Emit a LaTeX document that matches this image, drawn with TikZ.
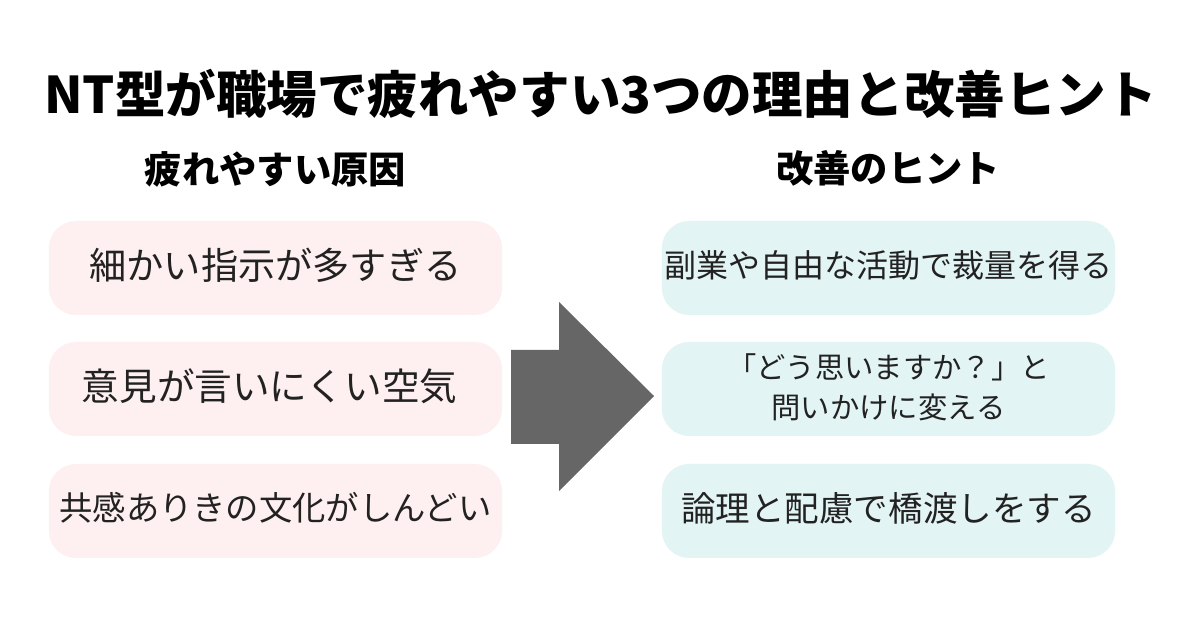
\documentclass[tikz,border=0pt]{standalone}
\usepackage{fontspec}
\setmainfont{Noto Sans CJK JP}
\definecolor{pinkc}{HTML}{FEF0F0}
\definecolor{tealc}{HTML}{E3F4F4}
\definecolor{txtc}{HTML}{222222}
\definecolor{arrowc}{HTML}{666666}
\newcommand{\liftup}[1]{\raisebox{2.2pt}[\height][\depth]{#1}}
\newcommand{\liftless}[1]{\raisebox{1.5pt}[\height][\depth]{#1}}
\tikzset{
 pinkbox/.style={rounded corners=20.5pt,fill=pinkc,minimum width=340pt,minimum height=70.5pt,inner sep=0pt,text=txtc,align=center},
 tealbox/.style={pinkbox,fill=tealc},
 headtxt/.style={font=\bfseries\fontsize{28}{32}\selectfont,text=black,inner sep=0pt},
}
\begin{document}
\begin{tikzpicture}[x=0.75pt,y=-0.75pt]
\useasboundingbox (0,0) rectangle (1200,630);
\fill[white] (0,0) rectangle (1200,630);
\node[inner sep=0pt,font=\bfseries\fontsize{37.9}{44}\selectfont] (title) at (600.5,94) {NT型が職場で疲れやすい3つの理由と改善ヒント};
\node[headtxt] (hl) at (275.5,169) {疲れやすい原因};
\node[headtxt] (hr) at (888,168) {改善のヒント};
\node[pinkbox,font=\fontsize{27.9}{34}\selectfont] (a) at (275.5,268) {\liftup{細かい指示が多すぎる}};
\node[pinkbox,font=\fontsize{28.2}{34}\selectfont] (b) at (275.5,389) {\liftup{意見が言いにくい空気\ \kern2.5pt}};
\node[pinkbox,font=\fontsize{25}{30}\selectfont] (c) at (275.5,511) {\liftup{共感ありきの文化がしんどい}};
\node[tealbox,font=\fontsize{24}{30}\selectfont] (d) at (888.5,268) {\liftup{副業や自由な活動で裁量を得る}};
\node[tealbox,font=\fontsize{22}{30}\selectfont] (e) at (888.5,389) {\liftless{「どう思いますか？」と}\\\liftless{問いかけに変える}};
\node[tealbox,font=\fontsize{25.9}{30}\selectfont] (f) at (888.5,511) {\liftup{論理と配慮で橋渡しをする}};
\fill[arrowc] (511,350) -- (559,350) -- (559,302) -- (654,396) -- (559,491) -- (559,444) -- (511,444) -- cycle;
\end{tikzpicture}
\end{document}
